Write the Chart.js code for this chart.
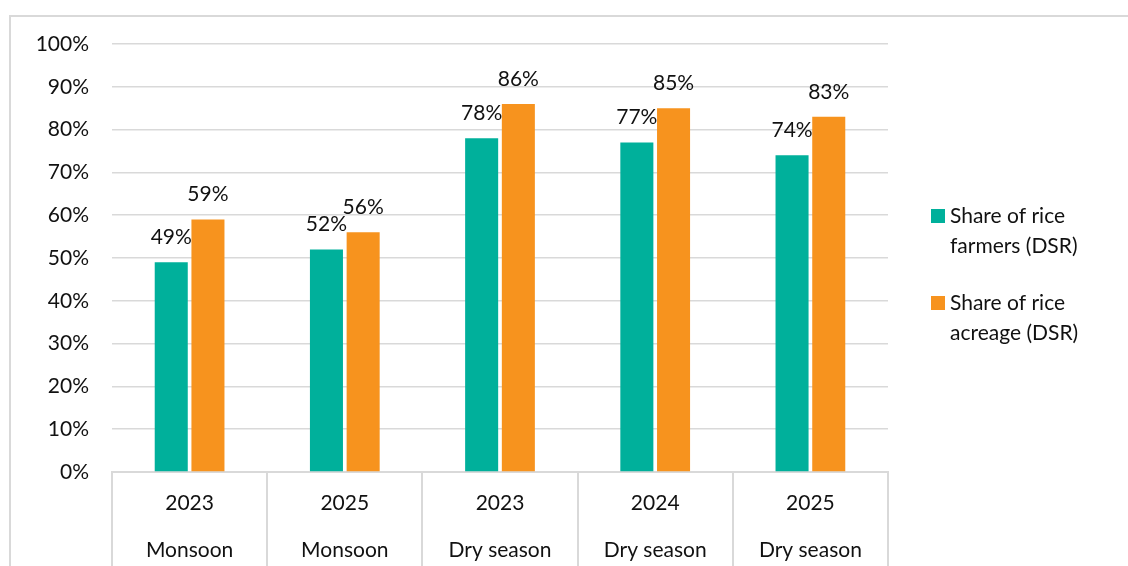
<!DOCTYPE html>
<html>
<head>
<meta charset="utf-8">
<script src="https://cdn.jsdelivr.net/npm/chart.js@4/dist/chart.umd.min.js"></script>
<style>
    html, body { margin: 0; padding: 0; background: #fff; overflow: hidden; }
    #wrap { position: relative; width: 1128px; height: 566px; overflow: hidden; }
    #frame { position: absolute; left: 9px; top: 15px; width: 1200px; height: 700px; border: 2px solid #d9d9d9; box-sizing: border-box; }
    #chart { position: absolute; left: 0; top: 0; }
</style>
</head>
<body>
<div id="wrap">
    <div id="frame"></div>
    <canvas id="chart" width="1128" height="600"></canvas>
</div>
<script>
// survey rounds (year on top, season below)
var years = ['2023', '2025', '2023', '2024', '2025'];
var seasons = ['Monsoon', 'Monsoon', 'Dry season', 'Dry season', 'Dry season'];

// % of rice farmers / rice acreage using DSR
var farmersShare = [49, 52, 78, 77, 74];
var acreageShare = [59, 56, 86, 85, 83];

var seriesNames = ['Share of rice farmers (DSR)', 'Share of rice acreage (DSR)'];
var legendLines = [['Share of rice', 'farmers (DSR)'], ['Share of rice', 'acreage (DSR)']];
var seriesColors = ['#00b09b', '#f7931e'];

var yTicks = [0, 10, 20, 30, 40, 50, 60, 70, 80, 90, 100];

var FONT = 'Lato, "Open Sans", sans-serif';
var FONT_SIZE = 21;
var gridColor = '#d9d9d9';

// value labels above each bar
var barLabels = {
    id: 'barLabels',
    afterDatasetsDraw: function (chart) {
        var ctx = chart.ctx;
        ctx.save();
        ctx.font = FONT_SIZE + 'px ' + FONT;
        ctx.fillStyle = '#111';
        ctx.textAlign = 'center';
        ctx.textBaseline = 'middle';
        chart.data.datasets.forEach(function (ds, i) {
            chart.getDatasetMeta(i).data.forEach(function (bar, j) {
                ctx.fillText(ds.data[j] + '%', bar.x, bar.y - 25);
            });
        });
        ctx.restore();
    }
};

// two-line legend on the right
var sideLegend = {
    id: 'sideLegend',
    afterDraw: function (chart) {
        var ctx = chart.ctx;
        var x = chart.chartArea.right + 43;
        var rows = [216, 303];
        ctx.save();
        ctx.font = FONT_SIZE + 'px ' + FONT;
        ctx.textAlign = 'left';
        ctx.textBaseline = 'middle';
        legendLines.forEach(function (lines, i) {
            ctx.fillStyle = seriesColors[i];
            ctx.fillRect(x, rows[i] - 7, 14, 14);
            ctx.fillStyle = '#111';
            lines.forEach(function (t, k) {
                ctx.fillText(t, x + 19, rows[i] + k * 30);
            });
        });
        ctx.restore();
    }
};

var labels = years.map(function (y, i) { return [y, seasons[i]]; });

new Chart(document.getElementById('chart').getContext('2d'), {
    type: 'bar',
    data: {
        labels: labels,
        datasets: [{
            label: seriesNames[0],
            data: farmersShare,
            backgroundColor: seriesColors[0]
        }, {
            label: seriesNames[1],
            data: acreageShare,
            backgroundColor: seriesColors[1]
        }]
    },
    options: {
        responsive: false,
        animation: false,
        categoryPercentage: 0.473,
        barPercentage: 0.9,
        layout: {
            padding: { left: 0, right: 240, top: 44, bottom: 0 }
        },
        plugins: {
            legend: { display: false },
            tooltip: { enabled: false }
        },
        scales: {
            y: {
                min: 0,
                max: 100,
                afterFit: function (scale) { scale.width = 112; },
                afterBuildTicks: function (scale) {
                    scale.ticks = yTicks.map(function (v) { return { value: v }; });
                },
                border: { display: false },
                grid: { color: gridColor, lineWidth: 1.5, drawTicks: false, tickLength: 0 },
                ticks: {
                    padding: 23,
                    color: '#111',
                    font: { family: FONT, size: FONT_SIZE },
                    callback: function (v) { return v + '%'; }
                }
            },
            x: {
                afterFit: function (scale) { scale.height = 128; },
                border: { display: true, color: gridColor, width: 2 },
                grid: {
                    offset: true,
                    drawOnChartArea: false,
                    drawTicks: true,
                    tickLength: 128,
                    color: gridColor,
                    lineWidth: 2
                },
                ticks: {
                    autoSkip: false,
                    maxRotation: 0,
                    minRotation: 0,
                    padding: -120.5,
                    color: '#111',
                    font: { family: FONT, size: FONT_SIZE, lineHeight: 47 / FONT_SIZE }
                }
            }
        }
    },
    plugins: [barLabels, sideLegend]
});
</script>
</body>
</html>
